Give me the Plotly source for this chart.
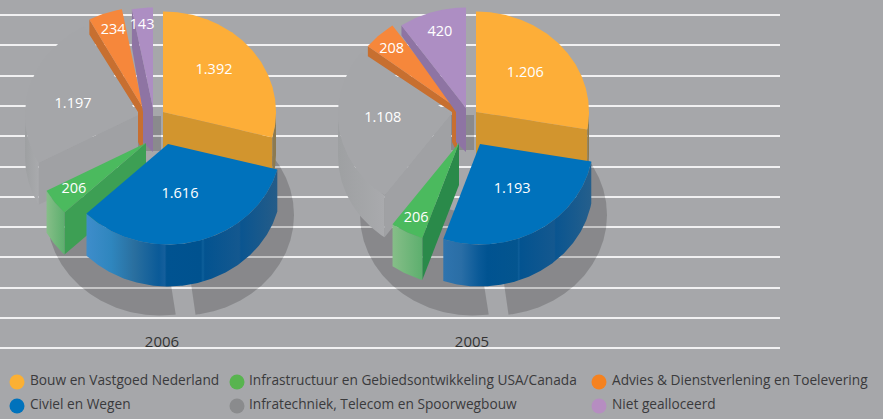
import math
import plotly.graph_objects as go

# ---------- data ----------
categories = ["Bouw en Vastgoed Nederland", "Civiel en Wegen",
              "Infrastructuur en Gebiedsontwikkeling USA/Canada",
              "Infratechniek, Telecom en Spoorwegbouw",
              "Advies & Dienstverlening en Toelevering", "Niet gealloceerd"]
years = ["2006", "2005"]
values_2006 = [1392, 1616, 206, 1197, 234, 143]
values_2005 = [1206, 1193, 206, 1108, 208, 420]

# ---------- style ----------
BG = "#A6A7AA"
GRID = "#F1F1F2"
FONT = "Open Sans"
A, B = 113, 100.5            # pie radii, pixels
DEPTH = 42
legend_colors = ["#FBB034", "#0072BC", "#58B44F", "#8A8B8D", "#F58220", "#B68DC1"]
top_colors = ["#FDAE38", "#0072BC", "#4BBA5E", "#A5A6A9", "#F6873B", "#AD8EC3"]
radial_colors = ["#D2952E", None, "#3D9F54", "#A0A1A4", "#C76F30", "#8E74A3"]
BLUE_2006 = [[0, "#3E8DCB"], [0.13, "#2F86BE"], [0.25, "#2A6F9F"], [0.38, "#0A5A98"], [0.41, "#155F9C"],
             [0.42, "#005391"], [0.6, "#00528F"], [0.61, "#0E5F9A"], [0.62, "#035390"], [0.8, "#14588F"],
             [0.81, "#0A5590"], [1, "#255C88"]]
BLUE_2005 = [[0, "#2F74AE"], [0.12, "#2A6EA6"], [0.24, "#0A5A98"], [0.3, "#005391"], [0.5, "#04558F"],
             [0.51, "#0F5F9A"], [0.52, "#035390"], [0.75, "#14588F"], [0.76, "#0A5590"], [1, "#255F8C"]]
arc_scales = [
    [[0, "#8C7A50"], [1, "#8C7A50"]],
    None,
    [[0, "#86BE88"], [1, "#5DAF6E"]],
    [[0, "#9EA0A2"], [1, "#A9AAAD"]],
    [[0, "#C76F30"], [1, "#C76F30"]],
    [[0, "#8E74A3"], [1, "#8E74A3"]],
]
pies = [
    dict(year=years[0], values=values_2006, base=163,
         apex=[(163, 112), (168, 144), (146, 143), (138, 115), (143, 108), (153, 108)],
         outer=[DEPTH, DEPTH, DEPTH, DEPTH, 15, 38],
         lab=[(.57, .67), (.42, .52), (.79, .78), (.60, .38), (.79, .82), (1.04, .83)],
         green_wall="#3D9F54", blue=BLUE_2006),
    dict(year=years[1], values=values_2005, base=476,
         apex=[(476, 112), (480, 144), (459, 143), (451, 114), (457, 108), (466, 108)],
         outer=[DEPTH, DEPTH, DEPTH, DEPTH, 10, 10],
         lab=[(.57, .60), (.56, .52), (.82, .84), (.61, .29), (.84, .80), (.77, .79)],
         green_wall="#2A8A4A", blue=BLUE_2005),
]
DRAW_ORDER = [3, 4, 5, 0, 2, 1]
COLUMN = {4: 5, 5: 10}       # width of the narrow wedges' inner column, pixels


def arc(cx, cy, a0, a1, off=0):
    n = max(2, int(abs(a1 - a0) * 1.5))
    pts = [a0 + (a1 - a0) * i / n for i in range(n + 1)]
    return ([cx + A * math.sin(math.radians(t)) for t in pts],
            [cy - B * math.cos(math.radians(t)) + off for t in pts])


fig = go.Figure()


def poly(xs, ys, color=None, scale=None):
    kw = dict(fillcolor=color) if color else dict(fillgradient=dict(type="horizontal", colorscale=scale))
    fig.add_trace(go.Scatter(x=list(xs) + [xs[0]], y=list(ys) + [ys[0]], mode="lines", fill="toself",
                             line=dict(width=0), hoverinfo="skip", showlegend=False, **kw))


for p in pies:
    b = p["base"]
    # ground shadow
    for cx, a0, a1 in ((b + 18, 0, 172.6), (b - 3, 172, 285)):
        xs, ys = arc(cx, 215, a0, a1)
        poly([cx] + xs, [215] + ys, color="rgba(0,0,0,0.18)")
    # dark patch between the wedges
    ax3, ay3 = p["apex"][3]
    poly([ax3, ax3 + 23, ax3 + 23, ax3], [ay3 + 1, ay3 + 1, ay3 + 36, ay3 + 36], color="rgba(0,0,0,0.17)")

    total = sum(p["values"])
    edges = [0]
    for v in p["values"]:
        edges.append(edges[-1] + v / total * 360)

    for i in DRAW_ORDER:
        a0, a1 = edges[i], edges[i + 1]
        cx, cy = p["apex"][i]
        # radial wall
        wall = a0 if a0 > 180 else (a1 if a1 < 180 else None)
        if wall is not None:
            ox, oy = arc(cx, cy, wall, wall)
            ex, ey = ox[0], oy[0]
            col = p["green_wall"] if i == 2 else radial_colors[i]
            if i in COLUMN:
                c = COLUMN[i]
                poly([cx, ex, ex, cx - c, cx - c, cx],
                     [cy, ey, ey + p["outer"][i], cy + 4, cy + 34, cy + DEPTH + 2], color=col)
            else:
                poly([cx, ex, ex, cx], [cy, ey, ey + p["outer"][i], cy + DEPTH], color=col)
        # outer wall along the front of the arc
        f0, f1 = max(a0, 90), min(a1, 270)
        if f1 > f0:
            tx, ty = arc(cx, cy, f0, f1)
            bx, by = arc(cx, cy, f1, f0, p["outer"][i])
            poly(tx + bx, ty + by, scale=p["blue"] if i == 1 else arc_scales[i])
        # top surface
        xs, ys = arc(cx, cy, a0, a1)
        poly([cx] + xs, [cy] + ys, color=top_colors[i])

    # value labels
    lx, ly, lt = [], [], []
    for i, v in enumerate(p["values"]):
        m = math.radians((edges[i] + edges[i + 1]) / 2)
        cx, cy = p["apex"][i]
        fx, fy = p["lab"][i]
        lx.append(cx + fx * A * math.sin(m))
        ly.append(cy - fy * B * math.cos(m))
        lt.append(f"{v:,}".replace(",", "."))
    fig.add_trace(go.Scatter(x=lx, y=ly, text=lt, mode="text", hoverinfo="skip", showlegend=False,
                             textfont=dict(family=FONT, size=14.5, color="white")))
    # year label
    fig.add_trace(go.Scatter(x=[b - 1 if p["year"] == "2006" else b - 4], y=[343], text=[p["year"]], mode="text",
                             hoverinfo="skip", showlegend=False,
                             textfont=dict(family=FONT, size=15, color="#333333")))

# legend (pixel-placed on a full-page axis pair so the spacing matches)
legend_x = [17, 17, 237, 237, 599, 599]
legend_y = [382, 406, 382, 406, 382, 406]
legend_text_x = [30, 30, 249, 249, 612, 612]
for name, col, x, y, tx in zip(categories, legend_colors, legend_x, legend_y, legend_text_x):
    fig.add_trace(go.Scatter(x=[x], y=[y], xaxis="x2", yaxis="y2", mode="markers", name=name,
                             hoverinfo="skip", showlegend=False,
                             marker=dict(size=15, color=col, line=dict(width=0))))
    fig.add_trace(go.Scatter(x=[tx], y=[y], xaxis="x2", yaxis="y2", mode="text", name=name, text=[name],
                             textposition="middle right", hoverinfo="skip", showlegend=False,
                             textfont=dict(family=FONT, size=13.7, color="#3A3A3C")))

fig.update_layout(
    width=883, height=419, autosize=False,
    margin=dict(l=0, r=0, t=0, b=0),
    paper_bgcolor=BG, plot_bgcolor="rgba(0,0,0,0)", showlegend=False,
    font=dict(family=FONT),
    xaxis=dict(domain=[0, 780 / 883], range=[0, 780], showgrid=False, zeroline=False,
               showticklabels=False, ticks="", fixedrange=True),
    yaxis=dict(domain=[1 - 352 / 419, 1], range=[352, 0], showgrid=True, gridcolor=GRID, gridwidth=1.5,
               tick0=15, dtick=30.3, zeroline=False, showticklabels=False, ticks="", fixedrange=True),
    xaxis2=dict(domain=[0, 1], range=[0, 883], visible=False, fixedrange=True, anchor="y2"),
    yaxis2=dict(domain=[0, 1], range=[419, 0], visible=False, fixedrange=True, anchor="x2"),
)
fig.write_html("out.html", config=dict(displayModeBar=False),
               post_script="document.body.style.margin='0';document.body.style.overflow='hidden';")
